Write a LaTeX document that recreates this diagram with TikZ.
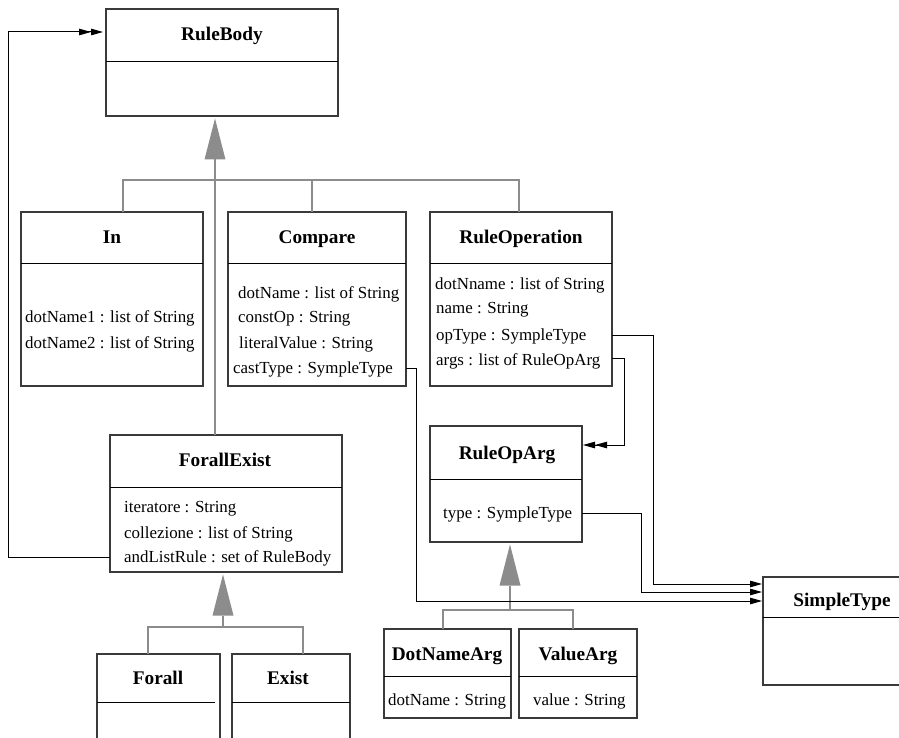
\documentclass[tikz,border=0pt]{standalone}
\usepackage{fontspec}
\setmainfont{Liberation Serif}
\usetikzlibrary{arrows.meta}
\definecolor{inh}{HTML}{8C8C8C}
\definecolor{frame}{HTML}{3A3A3A}
\begin{document}
\begin{tikzpicture}[x=1pt,y=-1pt,
  classbox/.style={draw=frame,line width=1.15pt,inner sep=0pt,outer sep=0pt,anchor=north west},
  divider/.style={draw=black,line width=0.9pt},
  cname/.style={font=\fontsize{19.3}{22}\selectfont\bfseries,inner sep=0pt,anchor=base},
  attr/.style={font=\fontsize{16.9}{20}\selectfont,inner sep=0pt,anchor=base west},
  inherit/.style={draw=inh,line width=2.9pt,line join=miter},
  gentip/.style={-{Triangle[width=21pt,length=41pt,line width=0pt]},shorten >=2.5pt},
  assoc/.style={draw=black,line width=1pt},
  onetip/.style={-{Triangle[width=6.5pt,length=12pt]}},
  twotip/.style={-{Triangle[width=6.5pt,length=12pt]Triangle[width=6.5pt,length=12pt]}},
]
\useasboundingbox (0,0) rectangle (899,738);
\clip (0,0) rectangle (899,738);

% ---- RuleBody
\node[classbox,minimum width=232pt,minimum height=107pt] (rb) at (106,9) {};
\draw[divider] (106,61) -- (338,61);
\node[cname] (rbT) at (222,41) {RuleBody};

% ---- In
\node[classbox,minimum width=182pt,minimum height=174pt] (in) at (21,212) {};
\draw[divider] (21,263) -- (203,263);
\node[cname] (inT) at (112,243.5) {In};
\node[attr] (inA1) at (25,322.5) {dotName1 : list of String};
\node[attr] (inA2) at (25,348.5) {dotName2 : list of String};

% ---- Compare
\node[classbox,minimum width=178pt,minimum height=174pt] (cmp) at (228,212) {};
\draw[divider] (228,263) -- (406,263);
\node[cname] (cmpT) at (317,243.5) {Compare};
\node[attr] (cmpA1) at (238,298.5) {dotName : list of String};
\node[attr] (cmpA2) at (238,322.5) {constOp : String};
\node[attr] (cmpA3) at (239,348.5) {literalValue : String};
\node[attr] (cmpA4) at (233,373.5) {castType : SympleType};

% ---- RuleOperation
\node[classbox,minimum width=182pt,minimum height=174pt] (rop) at (430,212) {};
\draw[divider] (430,263) -- (612,263);
\node[cname] (ropT) at (521,243.5) {RuleOperation};
\node[attr] (ropA1) at (435,289.5) {dotNname : list of String};
\node[attr] (ropA2) at (436,313.5) {name : String};
\node[attr] (ropA3) at (436,340.5) {opType : SympleType};
\node[attr] (ropA4) at (436,365.5) {args : list of RuleOpArg};

% ---- RuleOpArg
\node[classbox,minimum width=152pt,minimum height=116pt] (roa) at (430,426) {};
\draw[divider] (430,479) -- (582,479);
\node[cname] (roaT) at (507,459.5) {RuleOpArg};
\node[attr] (roaA1) at (443,518.5) {type : SympleType};

% ---- ForallExist
\node[classbox,minimum width=232pt,minimum height=137pt] (fe) at (110,435) {};
\draw[divider] (110,487) -- (342,487);
\node[cname] (feT) at (225,466.5) {ForallExist};
\node[attr] (feA1) at (124,512.5) {iteratore : String};
\node[attr] (feA2) at (124,538.5) {collezione : list of String};
\node[attr] (feA3) at (124,562.5) {andListRule : set of RuleBody};

% ---- Forall / Exist
\node[classbox,minimum width=123pt,minimum height=110pt] (fa) at (97,654) {};
\draw[divider] (97,702) -- (215,702);
\node[cname] (faT) at (158,684.5) {Forall};
\node[classbox,minimum width=118pt,minimum height=110pt] (ex) at (232,654) {};
\draw[divider] (232,702) -- (350,702);
\node[cname] (exT) at (288,684.5) {Exist};

% ---- DotNameArg / ValueArg
\node[classbox,minimum width=127pt,minimum height=89pt] (dna) at (384,629) {};
\draw[divider] (384,676) -- (511,676);
\node[cname] (dnaT) at (447,660.5) {DotNameArg};
\node[attr] (dnaA1) at (388,705.5) {dotName : String};
\node[classbox,minimum width=118pt,minimum height=89pt] (va) at (519,629) {};
\draw[divider] (519,676) -- (637,676);
\node[cname] (vaT) at (578,660.5) {ValueArg};
\node[attr] (vaA1) at (533,705.5) {value : String};

% ---- SimpleType
\node[classbox,minimum width=160pt,minimum height=108pt] (st) at (763,577) {};
\draw[divider] (763,617) -- (923,617);
\node[cname] (stT) at (842,606.5) {SimpleType};

% ---- generalisations
\draw[inherit] (in.north -| 123,0) -- (123,180) -- (519,180) -- (rop.north -| 519,0);
\draw[inherit] (cmp.north -| 312,0) -- (312,180);
\draw[inherit,gentip] (fe.north -| 215,0) -- (rb.south -| 215,0);

\draw[inherit] (fa.north -| 148,0) -- (148,627) -- (303,627) -- (ex.north -| 303,0);
\draw[inherit,gentip] (223,627) -- (fe.south -| 223,0);

\draw[inherit] (dna.north -| 443,0) -- (443,610) -- (573,610) -- (va.north -| 573,0);
\draw[inherit,gentip] (510,610) -- (roa.south -| 510,0);

% ---- associations
\draw[assoc,twotip,shorten >=3pt] (fe.west |- 0,557) -- (8,557) -- (8,32) -- (rb.west |- 0,32);
\draw[assoc,twotip,shorten >=1pt] (rop.east |- 0,358) -- (624,358) -- (624,445) -- (roa.east |- 0,445);
\draw[assoc,onetip,shorten >=1pt] (rop.east |- 0,335) -- (653,335) -- (653,584) -- (st.west |- 0,584);
\draw[assoc,onetip,shorten >=1pt] (roa.east |- 0,513) -- (641,513) -- (641,592) -- (st.west |- 0,592);
\draw[assoc,onetip,shorten >=1pt] (cmp.east |- 0,368) -- (416,368) -- (416,601) -- (st.west |- 0,601);
\end{tikzpicture}
\end{document}
